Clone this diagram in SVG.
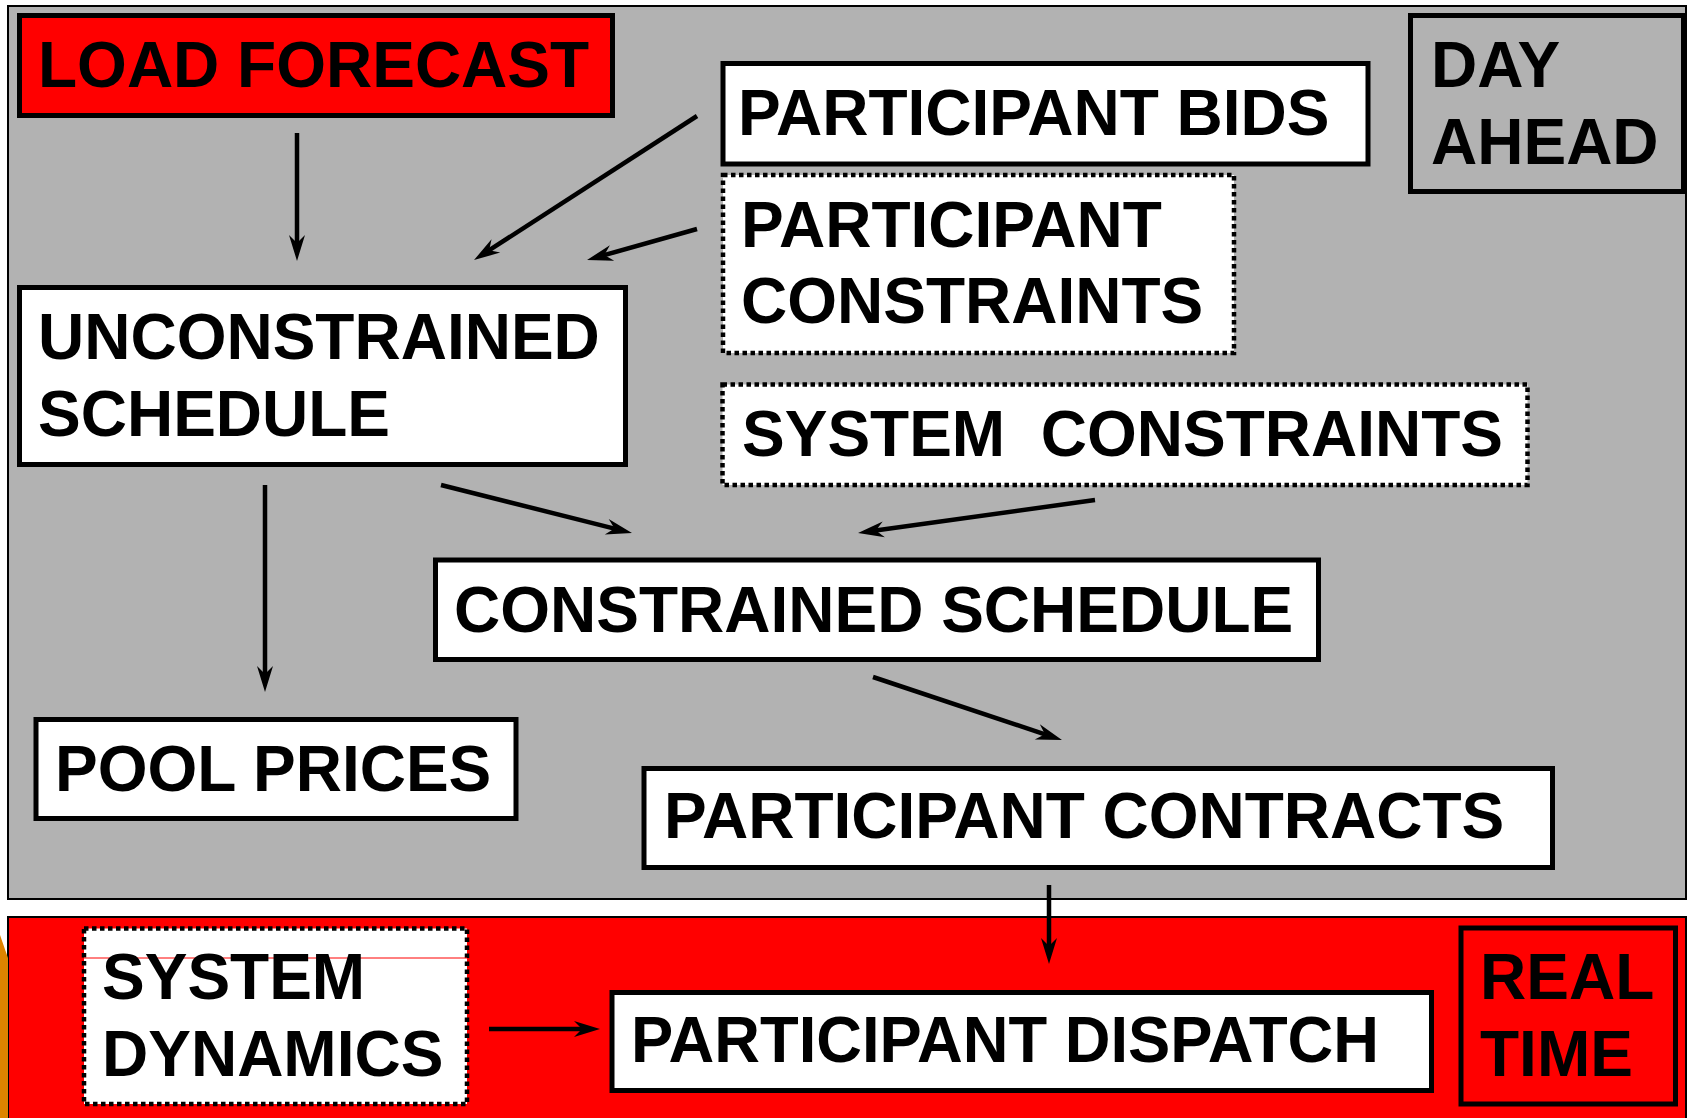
<svg xmlns="http://www.w3.org/2000/svg" width="1689" height="1118" viewBox="0 0 1689 1118">
<defs>
<style>
text{font-family:"Liberation Sans",Arial,sans-serif;font-weight:bold;font-size:64px;fill:#000;white-space:pre}
.box{fill:#fff;stroke:#000;stroke-width:5}
.dot{fill:#fff;stroke:#000;stroke-width:4.5;stroke-dasharray:4.5 3.5}
.conn{stroke:#000;stroke-width:4.5;fill:none;marker-end:url(#ah)}
</style>
<marker id="ah" markerUnits="userSpaceOnUse" markerWidth="40" markerHeight="40" viewBox="-20 -20 40 40" refX="0" refY="0" orient="auto" overflow="visible">
<path d="M14,0 L-12,-8 L-4,0 L-12,8 Z" fill="#000"/>
</marker>
</defs>
<rect x="0" y="0" width="1689" height="1118" fill="#fff"/>
<rect id="day-ahead-panel" x="8" y="6" width="1678" height="893" fill="#B2B2B2" stroke="#000" stroke-width="2"/>
<rect id="real-time-panel" x="8" y="917" width="1678" height="215" fill="#FF0000" stroke="#000" stroke-width="2"/>
<path d="M0,935 L8,958 L8,1118 L0,1118 Z" fill="#DD8400"/>

<g id="load-forecast"><rect x="19.5" y="15.5" width="593" height="100" fill="#FF0000" stroke="#000" stroke-width="5"/><text x="38" y="87">LOAD FORECAST</text></g>
<g id="participant-bids"><rect class="box" x="723" y="63.5" width="645" height="100.5"/><text x="738" y="135">PARTICIPANT BIDS</text></g>
<g id="day-ahead"><rect x="1410.5" y="15.5" width="273" height="176" fill="#B2B2B2" stroke="#000" stroke-width="5"/><text x="1431" y="87">DAY</text><text x="1431" y="164">AHEAD</text></g>
<g id="participant-constraints"><rect class="dot" x="723" y="175" width="511" height="178"/><text x="741" y="247">PARTICIPANT</text><text x="741" y="323">CONSTRAINTS</text></g>
<g id="unconstrained-schedule"><rect class="box" x="19.5" y="287.5" width="606" height="177"/><text x="38" y="359">UNCONSTRAINED</text><text x="38" y="436">SCHEDULE</text></g>
<g id="system-constraints"><rect class="dot" x="722.5" y="384.5" width="805" height="100.5"/><text x="742" y="456">SYSTEM  CONSTRAINTS</text></g>
<g id="constrained-schedule"><rect class="box" x="435.5" y="560" width="883" height="99.5"/><text x="454" y="632">CONSTRAINED SCHEDULE</text></g>
<g id="pool-prices"><rect class="box" x="36" y="719.5" width="480" height="99"/><text x="55" y="791">POOL PRICES</text></g>
<g id="participant-contracts"><rect class="box" x="644" y="768.5" width="908.5" height="99"/><text x="664" y="838">PARTICIPANT CONTRACTS</text></g>
<g id="system-dynamics"><rect class="dot" x="84" y="928.5" width="383" height="175.5"/><line x1="84" y1="958" x2="467" y2="958" stroke="#FF0000" stroke-width="1"/><text x="102" y="999">SYSTEM</text><text x="102" y="1076">DYNAMICS</text></g>
<g id="participant-dispatch"><rect class="box" x="612" y="992.5" width="819.5" height="98"/><text x="631" y="1062" textLength="748" lengthAdjust="spacingAndGlyphs">PARTICIPANT DISPATCH</text></g>
<g id="real-time"><rect x="1461" y="928" width="214.5" height="176" fill="#FF0000" stroke="#000" stroke-width="5"/><text x="1480" y="999">REAL</text><text x="1480" y="1076">TIME</text></g>

<g id="connectors">
<line class="conn" x1="297" y1="133" x2="297" y2="247"/>
<line class="conn" x1="697" y1="116" x2="485.8" y2="252.4"/>
<line class="conn" x1="697" y1="229" x2="600.5" y2="256.2"/>
<line class="conn" x1="265" y1="485" x2="265" y2="678"/>
<line class="conn" x1="441" y1="485" x2="618.4" y2="529.6"/>
<line class="conn" x1="1095" y1="500" x2="871.9" y2="531.1"/>
<line class="conn" x1="873" y1="677" x2="1048.7" y2="735.6"/>
<line class="conn" x1="1049" y1="885" x2="1049" y2="950"/>
<line class="conn" x1="489" y1="1029" x2="586" y2="1029"/>
</g>
</svg>
